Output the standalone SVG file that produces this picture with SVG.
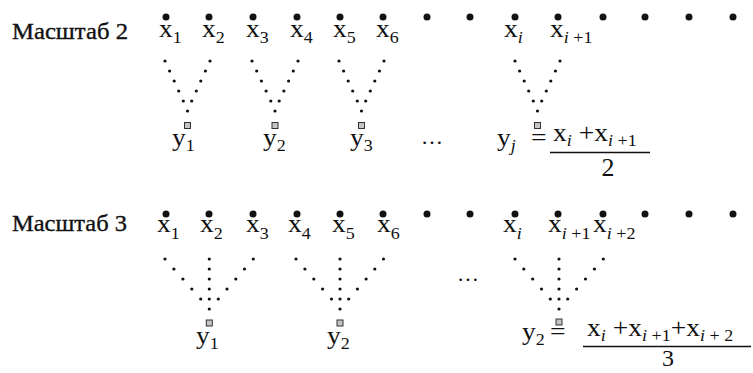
<svg xmlns="http://www.w3.org/2000/svg" width="753" height="373" viewBox="0 0 753 373">
<style>
text{font-family:"Liberation Serif","Times New Roman",serif;fill:#111}
.lbl{font-size:23px;stroke:#111;stroke-width:0.35}
.m{font-size:26px}
.s{font-size:17px}
.it{font-style:italic}
.pt{fill:#111}
.sd{fill:#111}
.sq{fill:#c4c4c4;stroke:#333;stroke-width:1}
.fr{stroke:#111;stroke-width:1.5}
</style>
<rect width="753" height="373" fill="#fff"/>

<g id="scale2">
<text class="lbl" x="12" y="39" textLength="116" lengthAdjust="spacingAndGlyphs">Масштаб 2</text>
<g id="top-points">
<circle class="pt" cx="166" cy="17" r="3.5"/><circle class="pt" cx="209" cy="17" r="3.5"/><circle class="pt" cx="253" cy="17" r="3.5"/><circle class="pt" cx="297" cy="17" r="3.5"/><circle class="pt" cx="340" cy="17" r="3.5"/><circle class="pt" cx="383" cy="17" r="3.5"/><circle class="pt" cx="427" cy="17" r="3.5"/><circle class="pt" cx="470" cy="17" r="3.5"/><circle class="pt" cx="515" cy="17" r="3.5"/><circle class="pt" cx="558" cy="17" r="3.5"/><circle class="pt" cx="603" cy="17" r="3.5"/><circle class="pt" cx="645" cy="17" r="3.5"/><circle class="pt" cx="689" cy="17" r="3.5"/><circle class="pt" cx="733" cy="17" r="3.5"/>
</g>
<g id="top-x-labels" class="m">
<text transform="translate(159,37) scale(1.06,1)">x<tspan class="s" dy="6">1</tspan></text>
<text transform="translate(202,37) scale(1.06,1)">x<tspan class="s" dy="6">2</tspan></text>
<text transform="translate(246,37) scale(1.06,1)">x<tspan class="s" dy="6">3</tspan></text>
<text transform="translate(290,37) scale(1.06,1)">x<tspan class="s" dy="6">4</tspan></text>
<text transform="translate(333,37) scale(1.06,1)">x<tspan class="s" dy="6">5</tspan></text>
<text transform="translate(376,37) scale(1.06,1)">x<tspan class="s" dy="6">6</tspan></text>
<text transform="translate(504,37) scale(1.06,1)">x<tspan class="s it" dy="6">i</tspan></text>
<text transform="translate(550,37) scale(1.06,1)">x<tspan class="s" dy="6"><tspan class="it">i</tspan> +1</tspan></text>
</g>
<g id="top-connectors">
<circle class="sd" cx="165" cy="61" r="1.6"/><circle class="sd" cx="169.6" cy="71" r="1.6"/><circle class="sd" cx="174.2" cy="81" r="1.6"/><circle class="sd" cx="178.7" cy="91" r="1.6"/><circle class="sd" cx="183.3" cy="101" r="1.6"/>
<circle class="sd" cx="210" cy="61" r="1.6"/><circle class="sd" cx="205.4" cy="71" r="1.6"/><circle class="sd" cx="200.8" cy="81" r="1.6"/><circle class="sd" cx="196.3" cy="91" r="1.6"/><circle class="sd" cx="191.7" cy="101" r="1.6"/>
<circle class="sd" cx="187.5" cy="111" r="1.6"/>
<circle class="sd" cx="252" cy="61" r="1.6"/><circle class="sd" cx="256.7" cy="71" r="1.6"/><circle class="sd" cx="261.4" cy="81" r="1.6"/><circle class="sd" cx="266.1" cy="91" r="1.6"/><circle class="sd" cx="270.8" cy="101" r="1.6"/>
<circle class="sd" cx="298" cy="61" r="1.6"/><circle class="sd" cx="293.3" cy="71" r="1.6"/><circle class="sd" cx="288.6" cy="81" r="1.6"/><circle class="sd" cx="283.9" cy="91" r="1.6"/><circle class="sd" cx="279.2" cy="101" r="1.6"/>
<circle class="sd" cx="275" cy="111" r="1.6"/>
<circle class="sd" cx="339" cy="61" r="1.6"/><circle class="sd" cx="343.6" cy="71" r="1.6"/><circle class="sd" cx="348.2" cy="81" r="1.6"/><circle class="sd" cx="352.7" cy="91" r="1.6"/><circle class="sd" cx="357.3" cy="101" r="1.6"/>
<circle class="sd" cx="384" cy="61" r="1.6"/><circle class="sd" cx="379.4" cy="71" r="1.6"/><circle class="sd" cx="374.8" cy="81" r="1.6"/><circle class="sd" cx="370.3" cy="91" r="1.6"/><circle class="sd" cx="365.7" cy="101" r="1.6"/>
<circle class="sd" cx="361.5" cy="111" r="1.6"/>
<circle class="sd" cx="515" cy="61" r="1.6"/><circle class="sd" cx="519.6" cy="71" r="1.6"/><circle class="sd" cx="524.2" cy="81" r="1.6"/><circle class="sd" cx="528.7" cy="91" r="1.6"/><circle class="sd" cx="533.3" cy="101" r="1.6"/>
<circle class="sd" cx="560" cy="61" r="1.6"/><circle class="sd" cx="555.4" cy="71" r="1.6"/><circle class="sd" cx="550.8" cy="81" r="1.6"/><circle class="sd" cx="546.3" cy="91" r="1.6"/><circle class="sd" cx="541.7" cy="101" r="1.6"/>
<circle class="sd" cx="537.5" cy="111" r="1.6"/>
</g>
<g id="top-results">
<rect class="sq" x="184.5" y="122.5" width="6" height="6"/>
<rect class="sq" x="272" y="122.5" width="6" height="6"/>
<rect class="sq" x="358.5" y="122.5" width="6" height="6"/>
<rect class="sq" x="534.5" y="122.5" width="6" height="6"/>
<text class="m" transform="translate(172,146) scale(1.06,1)">y<tspan class="s" dy="5">1</tspan></text>
<text class="m" transform="translate(263,146) scale(1.06,1)">y<tspan class="s" dy="5">2</tspan></text>
<text class="m" transform="translate(350,146) scale(1.06,1)">y<tspan class="s" dy="5">3</tspan></text>
<text class="m" x="421" y="144" style="font-size:22px">…</text>
<text class="m" transform="translate(497,146) scale(1.06,1)">y<tspan class="s it" dy="5">j</tspan></text>
<text class="m" transform="translate(531,146) scale(1.06,1)">=</text>
<text class="m" transform="translate(553,141) scale(1.06,1)">x<tspan class="s it" dy="5">i</tspan><tspan dy="-5"> +x</tspan><tspan class="s" dy="5"><tspan class="it">i</tspan> +1</tspan></text>
<line class="fr" x1="550" y1="152.5" x2="650" y2="152.5"/>
<text class="m" x="608" y="176" text-anchor="middle">2</text>
</g>
</g>

<g id="scale3">
<text class="lbl" x="12" y="231" textLength="115" lengthAdjust="spacingAndGlyphs">Масштаб 3</text>
<g id="bottom-points">
<circle class="pt" cx="166" cy="214" r="3.5"/><circle class="pt" cx="209" cy="214" r="3.5"/><circle class="pt" cx="253" cy="214" r="3.5"/><circle class="pt" cx="297" cy="214" r="3.5"/><circle class="pt" cx="340" cy="214" r="3.5"/><circle class="pt" cx="383" cy="214" r="3.5"/><circle class="pt" cx="427" cy="214" r="3.5"/><circle class="pt" cx="470" cy="214" r="3.5"/><circle class="pt" cx="515" cy="214" r="3.5"/><circle class="pt" cx="558" cy="214" r="3.5"/><circle class="pt" cx="603" cy="214" r="3.5"/><circle class="pt" cx="645" cy="214" r="3.5"/><circle class="pt" cx="689" cy="214" r="3.5"/><circle class="pt" cx="733" cy="214" r="3.5"/>
</g>
<g id="bottom-x-labels" class="m">
<text transform="translate(157,232) scale(1.06,1)">x<tspan class="s" dy="7">1</tspan></text>
<text transform="translate(200,232) scale(1.06,1)">x<tspan class="s" dy="7">2</tspan></text>
<text transform="translate(246,232) scale(1.06,1)">x<tspan class="s" dy="7">3</tspan></text>
<text transform="translate(288,232) scale(1.06,1)">x<tspan class="s" dy="7">4</tspan></text>
<text transform="translate(332,232) scale(1.06,1)">x<tspan class="s" dy="7">5</tspan></text>
<text transform="translate(377,232) scale(1.06,1)">x<tspan class="s" dy="7">6</tspan></text>
<text transform="translate(503,232) scale(1.06,1)">x<tspan class="s it" dy="7">i</tspan></text>
<text transform="translate(548,232) scale(1.06,1)">x<tspan class="s" dy="7"><tspan class="it">i</tspan> +1</tspan></text>
<text transform="translate(593,232) scale(1.06,1)">x<tspan class="s" dy="7"><tspan class="it">i</tspan> +2</tspan></text>
</g>
<g id="bottom-connectors">
<circle class="sd" cx="165" cy="259" r="1.6"/><circle class="sd" cx="173.9" cy="269" r="1.6"/><circle class="sd" cx="182.9" cy="279" r="1.6"/><circle class="sd" cx="191.8" cy="289" r="1.6"/><circle class="sd" cx="200.7" cy="299" r="1.6"/>
<circle class="sd" cx="209.3" cy="259" r="1.6"/><circle class="sd" cx="209.3" cy="269" r="1.6"/><circle class="sd" cx="209.3" cy="279" r="1.6"/><circle class="sd" cx="209.3" cy="289" r="1.6"/><circle class="sd" cx="209.3" cy="299" r="1.6"/><circle class="sd" cx="209.3" cy="309" r="1.6"/>
<circle class="sd" cx="253.3" cy="259" r="1.6"/><circle class="sd" cx="244.5" cy="269" r="1.6"/><circle class="sd" cx="235.8" cy="279" r="1.6"/><circle class="sd" cx="227" cy="289" r="1.6"/><circle class="sd" cx="218.3" cy="299" r="1.6"/>
<circle class="sd" cx="296" cy="259" r="1.6"/><circle class="sd" cx="304.9" cy="269" r="1.6"/><circle class="sd" cx="313.8" cy="279" r="1.6"/><circle class="sd" cx="322.6" cy="289" r="1.6"/><circle class="sd" cx="331.5" cy="299" r="1.6"/>
<circle class="sd" cx="340" cy="259" r="1.6"/><circle class="sd" cx="340" cy="269" r="1.6"/><circle class="sd" cx="340" cy="279" r="1.6"/><circle class="sd" cx="340" cy="289" r="1.6"/><circle class="sd" cx="340" cy="299" r="1.6"/><circle class="sd" cx="340" cy="309" r="1.6"/>
<circle class="sd" cx="383.5" cy="259" r="1.6"/><circle class="sd" cx="374.8" cy="269" r="1.6"/><circle class="sd" cx="366.1" cy="279" r="1.6"/><circle class="sd" cx="357.4" cy="289" r="1.6"/><circle class="sd" cx="348.7" cy="299" r="1.6"/>
<circle class="sd" cx="515" cy="259" r="1.6"/><circle class="sd" cx="523.8" cy="269" r="1.6"/><circle class="sd" cx="532.7" cy="279" r="1.6"/><circle class="sd" cx="541.5" cy="289" r="1.6"/><circle class="sd" cx="550.3" cy="299" r="1.6"/>
<circle class="sd" cx="559" cy="259" r="1.6"/><circle class="sd" cx="559" cy="269" r="1.6"/><circle class="sd" cx="559" cy="279" r="1.6"/><circle class="sd" cx="559" cy="289" r="1.6"/><circle class="sd" cx="559" cy="299" r="1.6"/><circle class="sd" cx="559" cy="309" r="1.6"/>
<circle class="sd" cx="603.3" cy="259" r="1.6"/><circle class="sd" cx="594.4" cy="269" r="1.6"/><circle class="sd" cx="585.5" cy="279" r="1.6"/><circle class="sd" cx="576.6" cy="289" r="1.6"/><circle class="sd" cx="567.7" cy="299" r="1.6"/>
</g>
<g id="bottom-results">
<rect class="sq" x="206.3" y="320" width="6" height="6"/>
<rect class="sq" x="337" y="320" width="6" height="6"/>
<rect class="sq" x="556" y="319" width="6" height="6"/>
<text class="m" transform="translate(196,344) scale(1.06,1)">y<tspan class="s" dy="5">1</tspan></text>
<text class="m" transform="translate(327,344) scale(1.06,1)">y<tspan class="s" dy="5">2</tspan></text>
<text class="m" x="457" y="281" style="font-size:22px">…</text>
<text class="m" transform="translate(522,340) scale(1.06,1)">y<tspan class="s" dy="5">2</tspan></text>
<text class="m" transform="translate(550,340) scale(1.06,1)">=</text>
<text class="m" transform="translate(587,336) scale(1.06,1)">x<tspan class="s it" dy="5">i</tspan><tspan dy="-5"> +x</tspan><tspan class="s" dy="5"><tspan class="it">i</tspan> +1</tspan><tspan dy="-5">+x</tspan><tspan class="s" dy="5"><tspan class="it">i</tspan> + 2</tspan></text>
<line class="fr" x1="583" y1="346.5" x2="751" y2="346.5"/>
<text class="m" x="668" y="366" text-anchor="middle" style="font-size:24px">3</text>
</g>
</g>
</svg>
